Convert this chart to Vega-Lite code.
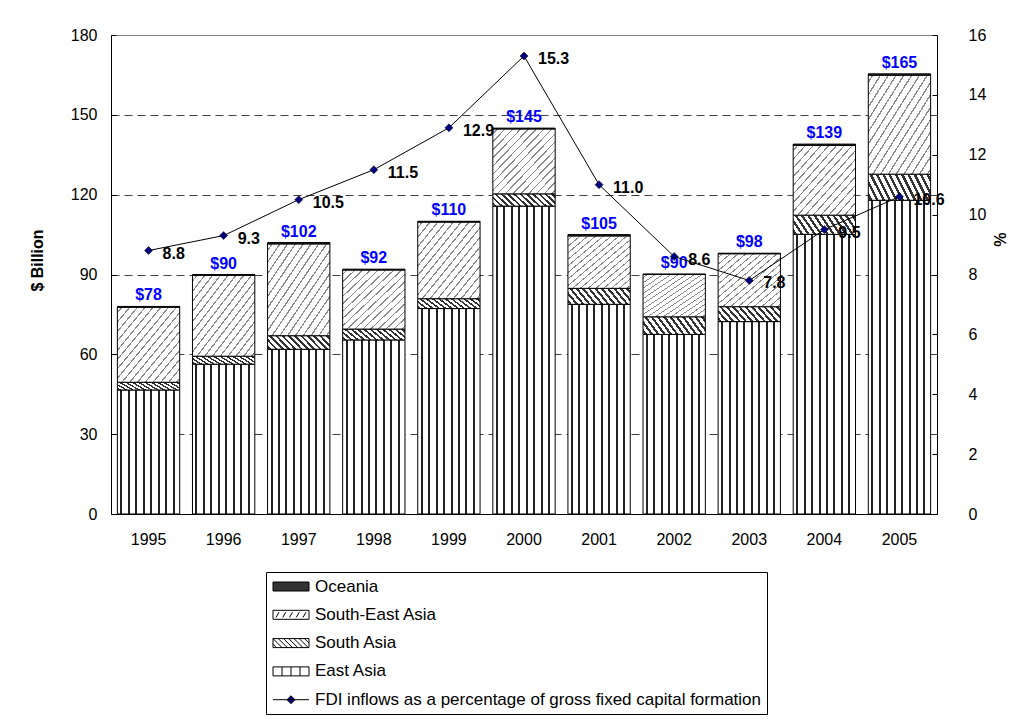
{
  "$schema": "https://vega.github.io/schema/vega-lite/v6.json",
  "width": 826,
  "height": 479,
  "autosize": {"type": "none"},
  "padding": {"left": 111, "top": 35, "right": 87, "bottom": 205},
  "background": "white",
  "config": {
    "font": "Liberation Sans",
    "view": {"stroke": "#808080", "strokeWidth": 1},
    "axis": {
      "labelFont": "Liberation Sans", "labelFontSize": 16, "labelColor": "black",
      "titleFont": "Liberation Sans", "titleFontSize": 16, "titleFontWeight": "bold", "titleColor": "black",
      "domainColor": "black", "tickColor": "black"
    },
    "legend": {
      "labelFont": "Liberation Sans", "labelFontSize": 17, "labelColor": "black", "labelLimit": 1000,
      "strokeColor": "black", "fillColor": "white", "padding": 6, "rowPadding": 10.3,
      "symbolSize": 225, "labelOffset": 26, "symbolStrokeWidth": 1, "symbolStrokeColor": "black",
      "symbolFillColor": "white", "symbolOpacity": 1
    }
  },
  "datasets": {
    "bars": [
      {"year": "1995", "region": "East Asia", "value": 46.6},
      {"year": "1995", "region": "South Asia", "value": 2.9},
      {"year": "1995", "region": "South-East Asia", "value": 28.2},
      {"year": "1995", "region": "Oceania", "value": 0.3},
      {"year": "1996", "region": "East Asia", "value": 56.3},
      {"year": "1996", "region": "South Asia", "value": 3.0},
      {"year": "1996", "region": "South-East Asia", "value": 30.4},
      {"year": "1996", "region": "Oceania", "value": 0.3},
      {"year": "1997", "region": "East Asia", "value": 61.9},
      {"year": "1997", "region": "South Asia", "value": 5.1},
      {"year": "1997", "region": "South-East Asia", "value": 34.5},
      {"year": "1997", "region": "Oceania", "value": 0.5},
      {"year": "1998", "region": "East Asia", "value": 65.4},
      {"year": "1998", "region": "South Asia", "value": 4.1},
      {"year": "1998", "region": "South-East Asia", "value": 22.2},
      {"year": "1998", "region": "Oceania", "value": 0.3},
      {"year": "1999", "region": "East Asia", "value": 77.2},
      {"year": "1999", "region": "South Asia", "value": 3.7},
      {"year": "1999", "region": "South-East Asia", "value": 28.8},
      {"year": "1999", "region": "Oceania", "value": 0.3},
      {"year": "2000", "region": "East Asia", "value": 115.7},
      {"year": "2000", "region": "South Asia", "value": 4.6},
      {"year": "2000", "region": "South-East Asia", "value": 24.4},
      {"year": "2000", "region": "Oceania", "value": 0.3},
      {"year": "2001", "region": "East Asia", "value": 78.8},
      {"year": "2001", "region": "South Asia", "value": 6.0},
      {"year": "2001", "region": "South-East Asia", "value": 19.7},
      {"year": "2001", "region": "Oceania", "value": 0.5},
      {"year": "2002", "region": "East Asia", "value": 67.5},
      {"year": "2002", "region": "South Asia", "value": 6.6},
      {"year": "2002", "region": "South-East Asia", "value": 15.9},
      {"year": "2002", "region": "Oceania", "value": 0.2},
      {"year": "2003", "region": "East Asia", "value": 72.3},
      {"year": "2003", "region": "South Asia", "value": 5.6},
      {"year": "2003", "region": "South-East Asia", "value": 19.9},
      {"year": "2003", "region": "Oceania", "value": 0.2},
      {"year": "2004", "region": "East Asia", "value": 105.1},
      {"year": "2004", "region": "South Asia", "value": 7.2},
      {"year": "2004", "region": "South-East Asia", "value": 26.2},
      {"year": "2004", "region": "Oceania", "value": 0.5},
      {"year": "2005", "region": "East Asia", "value": 117.9},
      {"year": "2005", "region": "South Asia", "value": 9.8},
      {"year": "2005", "region": "South-East Asia", "value": 37.2},
      {"year": "2005", "region": "Oceania", "value": 0.5}
    ],
    "fdi": [
      {"year": "1995", "pct": 8.8},
      {"year": "1996", "pct": 9.3},
      {"year": "1997", "pct": 10.5},
      {"year": "1998", "pct": 11.5},
      {"year": "1999", "pct": 12.9},
      {"year": "2000", "pct": 15.3},
      {"year": "2001", "pct": 11.0},
      {"year": "2002", "pct": 8.6},
      {"year": "2003", "pct": 7.8},
      {"year": "2004", "pct": 9.5},
      {"year": "2005", "pct": 10.6}
    ]
  },
  "layer": [
    {
      "layer": [
        {
          "data": {"name": "bars"},
          "transform": [{"calculate": "indexof(['East Asia','South Asia','South-East Asia','Oceania'], datum.region)", "as": "ord"}],
          "mark": {"type": "bar", "stroke": "black", "strokeWidth": 1, "opacity": 1},
          "encoding": {
            "x": {
              "field": "year", "type": "ordinal",
              "scale": {"paddingInner": 0.17, "paddingOuter": 0.085},
              "axis": {"title": null, "labelAngle": 0, "ticks": false, "labelPadding": 17, "domainColor": "black"}
            },
            "y": {
              "field": "value", "type": "quantitative", "stack": "zero", "title": "$ Billion",
              "scale": {"domain": [0, 180], "nice": false},
              "axis": {
                "values": [0, 30, 60, 90, 120, 150, 180],
                "tickSize": -5, "labelPadding": 19, "titlePadding": 25, "titleY": 225,
                "grid": true, "gridDash": [8, 5], "gridColor": "#404040",
                "gridOpacity": {"condition": {"test": "datum.value === 0 || datum.value === 180", "value": 0}, "value": 1}
              }
            },
            "order": {"field": "ord", "type": "quantitative"},
            "fill": {
              "condition": [
                {"test": "datum.region === 'East Asia'", "value": {"gradient": "linear", "x1": 0, "y1": 0, "x2": 1, "y2": 0, "stops": [
                  {"offset": 0, "color": "#ffffff"},
                  {"offset": 0.048, "color": "#ffffff"}, {"offset": 0.048, "color": "#222222"}, {"offset": 0.08, "color": "#222222"}, {"offset": 0.08, "color": "#ffffff"},
                  {"offset": 0.168, "color": "#ffffff"}, {"offset": 0.168, "color": "#222222"}, {"offset": 0.2, "color": "#222222"}, {"offset": 0.2, "color": "#ffffff"},
                  {"offset": 0.287, "color": "#ffffff"}, {"offset": 0.287, "color": "#222222"}, {"offset": 0.319, "color": "#222222"}, {"offset": 0.319, "color": "#ffffff"},
                  {"offset": 0.407, "color": "#ffffff"}, {"offset": 0.407, "color": "#222222"}, {"offset": 0.439, "color": "#222222"}, {"offset": 0.439, "color": "#ffffff"},
                  {"offset": 0.526, "color": "#ffffff"}, {"offset": 0.526, "color": "#222222"}, {"offset": 0.558, "color": "#222222"}, {"offset": 0.558, "color": "#ffffff"},
                  {"offset": 0.646, "color": "#ffffff"}, {"offset": 0.646, "color": "#222222"}, {"offset": 0.678, "color": "#222222"}, {"offset": 0.678, "color": "#ffffff"},
                  {"offset": 0.766, "color": "#ffffff"}, {"offset": 0.766, "color": "#222222"}, {"offset": 0.798, "color": "#222222"}, {"offset": 0.798, "color": "#ffffff"},
                  {"offset": 0.885, "color": "#ffffff"}, {"offset": 0.885, "color": "#222222"}, {"offset": 0.917, "color": "#222222"}, {"offset": 0.917, "color": "#ffffff"},
                  {"offset": 1, "color": "#ffffff"}
                ]}},
                {"test": "datum.region === 'South Asia'", "value": {"gradient": "linear", "x1": 0, "y1": 1, "x2": 1.159, "y2": 0.757, "stops": [
                  {"offset": 0, "color": "#ffffff"},
                  {"offset": 0.02, "color": "#ffffff"}, {"offset": 0.02, "color": "#333333"}, {"offset": 0.055, "color": "#333333"}, {"offset": 0.055, "color": "#ffffff"},
                  {"offset": 0.103, "color": "#ffffff"}, {"offset": 0.103, "color": "#333333"}, {"offset": 0.138, "color": "#333333"}, {"offset": 0.138, "color": "#ffffff"},
                  {"offset": 0.187, "color": "#ffffff"}, {"offset": 0.187, "color": "#333333"}, {"offset": 0.222, "color": "#333333"}, {"offset": 0.222, "color": "#ffffff"},
                  {"offset": 0.27, "color": "#ffffff"}, {"offset": 0.27, "color": "#333333"}, {"offset": 0.305, "color": "#333333"}, {"offset": 0.305, "color": "#ffffff"},
                  {"offset": 0.353, "color": "#ffffff"}, {"offset": 0.353, "color": "#333333"}, {"offset": 0.388, "color": "#333333"}, {"offset": 0.388, "color": "#ffffff"},
                  {"offset": 0.437, "color": "#ffffff"}, {"offset": 0.437, "color": "#333333"}, {"offset": 0.472, "color": "#333333"}, {"offset": 0.472, "color": "#ffffff"},
                  {"offset": 0.52, "color": "#ffffff"}, {"offset": 0.52, "color": "#333333"}, {"offset": 0.555, "color": "#333333"}, {"offset": 0.555, "color": "#ffffff"},
                  {"offset": 0.603, "color": "#ffffff"}, {"offset": 0.603, "color": "#333333"}, {"offset": 0.638, "color": "#333333"}, {"offset": 0.638, "color": "#ffffff"},
                  {"offset": 0.687, "color": "#ffffff"}, {"offset": 0.687, "color": "#333333"}, {"offset": 0.722, "color": "#333333"}, {"offset": 0.722, "color": "#ffffff"},
                  {"offset": 0.77, "color": "#ffffff"}, {"offset": 0.77, "color": "#333333"}, {"offset": 0.805, "color": "#333333"}, {"offset": 0.805, "color": "#ffffff"},
                  {"offset": 0.853, "color": "#ffffff"}, {"offset": 0.853, "color": "#333333"}, {"offset": 0.888, "color": "#333333"}, {"offset": 0.888, "color": "#ffffff"},
                  {"offset": 0.937, "color": "#ffffff"}, {"offset": 0.937, "color": "#333333"}, {"offset": 0.972, "color": "#333333"}, {"offset": 0.972, "color": "#ffffff"},
                  {"offset": 1, "color": "#ffffff"}
                ]}},
                {"test": "datum.region === 'South-East Asia'", "value": {"gradient": "linear", "x1": 0, "y1": 0, "x2": 1, "y2": 1, "stops": [
                  {"offset": 0, "color": "#ffffff"},
                  {"offset": 0.03, "color": "#ffffff"}, {"offset": 0.03, "color": "#8a8a8a"}, {"offset": 0.042, "color": "#8a8a8a"}, {"offset": 0.042, "color": "#ffffff"},
                  {"offset": 0.0925, "color": "#ffffff"}, {"offset": 0.0925, "color": "#8a8a8a"}, {"offset": 0.1045, "color": "#8a8a8a"}, {"offset": 0.1045, "color": "#ffffff"},
                  {"offset": 0.155, "color": "#ffffff"}, {"offset": 0.155, "color": "#8a8a8a"}, {"offset": 0.167, "color": "#8a8a8a"}, {"offset": 0.167, "color": "#ffffff"},
                  {"offset": 0.2175, "color": "#ffffff"}, {"offset": 0.2175, "color": "#8a8a8a"}, {"offset": 0.2295, "color": "#8a8a8a"}, {"offset": 0.2295, "color": "#ffffff"},
                  {"offset": 0.28, "color": "#ffffff"}, {"offset": 0.28, "color": "#8a8a8a"}, {"offset": 0.292, "color": "#8a8a8a"}, {"offset": 0.292, "color": "#ffffff"},
                  {"offset": 0.3425, "color": "#ffffff"}, {"offset": 0.3425, "color": "#8a8a8a"}, {"offset": 0.3545, "color": "#8a8a8a"}, {"offset": 0.3545, "color": "#ffffff"},
                  {"offset": 0.405, "color": "#ffffff"}, {"offset": 0.405, "color": "#8a8a8a"}, {"offset": 0.417, "color": "#8a8a8a"}, {"offset": 0.417, "color": "#ffffff"},
                  {"offset": 0.4675, "color": "#ffffff"}, {"offset": 0.4675, "color": "#8a8a8a"}, {"offset": 0.4795, "color": "#8a8a8a"}, {"offset": 0.4795, "color": "#ffffff"},
                  {"offset": 0.53, "color": "#ffffff"}, {"offset": 0.53, "color": "#8a8a8a"}, {"offset": 0.542, "color": "#8a8a8a"}, {"offset": 0.542, "color": "#ffffff"},
                  {"offset": 0.5925, "color": "#ffffff"}, {"offset": 0.5925, "color": "#8a8a8a"}, {"offset": 0.6045, "color": "#8a8a8a"}, {"offset": 0.6045, "color": "#ffffff"},
                  {"offset": 0.655, "color": "#ffffff"}, {"offset": 0.655, "color": "#8a8a8a"}, {"offset": 0.667, "color": "#8a8a8a"}, {"offset": 0.667, "color": "#ffffff"},
                  {"offset": 0.7175, "color": "#ffffff"}, {"offset": 0.7175, "color": "#8a8a8a"}, {"offset": 0.7295, "color": "#8a8a8a"}, {"offset": 0.7295, "color": "#ffffff"},
                  {"offset": 0.78, "color": "#ffffff"}, {"offset": 0.78, "color": "#8a8a8a"}, {"offset": 0.792, "color": "#8a8a8a"}, {"offset": 0.792, "color": "#ffffff"},
                  {"offset": 0.8425, "color": "#ffffff"}, {"offset": 0.8425, "color": "#8a8a8a"}, {"offset": 0.8545, "color": "#8a8a8a"}, {"offset": 0.8545, "color": "#ffffff"},
                  {"offset": 0.905, "color": "#ffffff"}, {"offset": 0.905, "color": "#8a8a8a"}, {"offset": 0.917, "color": "#8a8a8a"}, {"offset": 0.917, "color": "#ffffff"},
                  {"offset": 0.9675, "color": "#ffffff"}, {"offset": 0.9675, "color": "#8a8a8a"}, {"offset": 0.9795, "color": "#8a8a8a"}, {"offset": 0.9795, "color": "#ffffff"},
                  {"offset": 1, "color": "#ffffff"}
                ]}}
              ],
              "field": "region", "type": "nominal",
              "scale": {
                "domain": ["Oceania", "South-East Asia", "South Asia", "East Asia", "FDI inflows as a percentage of gross fixed capital formation"],
                "range": ["#333333", "#ffffff", "#ffffff", "#ffffff", "#000080"]
              },
              "legend": {"orient": "none", "legendX": 155, "legendY": 537, "direction": "vertical", "title": null}
            }
          }
        },
        {
          "data": {"name": "bars"},
          "mark": {"type": "point", "filled": true, "opacity": 0, "stroke": "black"},
          "encoding": {
            "x": {"field": "year", "type": "ordinal"},
            "y": {"field": "value", "type": "quantitative", "title": "$ Billion"},
            "fill": {
              "field": "region", "type": "nominal",
              "scale": {
                "domain": ["Oceania", "South-East Asia", "South Asia", "East Asia", "FDI inflows as a percentage of gross fixed capital formation"],
                "range": ["#333333", "#ffffff", "#ffffff", "#ffffff", "#000080"]
              },
              "legend": {"orient": "none", "legendX": 155, "legendY": 537, "direction": "vertical", "title": null}
            },
            "shape": {
              "field": "region", "type": "nominal",
              "scale": {
                "domain": ["Oceania", "South-East Asia", "South Asia", "East Asia", "FDI inflows as a percentage of gross fixed capital formation"],
                "range": [
                  "M-1,-0.6H3.8V0.6H-1Z",
                  "M-1,-0.6H3.8V0.6H-1Z M-0.6,0.35L-0.2,-0.35 M0.3,0.35L0.7,-0.35 M1.2,0.35L1.6,-0.35 M2.1,0.35L2.5,-0.35 M3.0,0.35L3.4,-0.35",
                  "M-1,-0.6H3.8V0.6H-1Z M-1,0.1L-0.5,0.6 M-1,-0.6L0.2,0.6 M-0.3,-0.6L0.9,0.6 M0.4,-0.6L1.6,0.6 M1.1,-0.6L2.3,0.6 M1.8,-0.6L3.0,0.6 M2.5,-0.6L3.7,0.6 M3.2,-0.6L3.8,0",
                  "M-1,-0.6H3.8V0.6H-1Z M0.2,-0.6V0.6 M1.4,-0.6V0.6 M2.6,-0.6V0.6",
                  "M-1,0H3.8 M1.4,-0.53L1.93,0L1.4,0.53L0.87,0Z"
                ]
              },
              "legend": {"orient": "none", "legendX": 155, "legendY": 537, "direction": "vertical", "title": null}
            }
          }
        },
        {
          "data": {"name": "bars"},
          "transform": [{"aggregate": [{"op": "sum", "field": "value", "as": "total"}], "groupby": ["year"]}],
          "mark": {"type": "text", "color": "#0000ff", "fontWeight": "bold", "fontSize": 16, "font": "Liberation Sans", "baseline": "alphabetic", "dy": -6},
          "encoding": {
            "x": {"field": "year", "type": "ordinal"},
            "y": {"field": "total", "type": "quantitative", "title": "$ Billion"},
            "text": {"field": "total", "type": "quantitative", "format": "$.0f"}
          }
        }
      ]
    },
    {
      "data": {"name": "fdi"},
      "layer": [
        {
          "mark": {"type": "line", "color": "black", "strokeWidth": 1},
          "encoding": {
            "x": {"field": "year", "type": "ordinal"},
            "y": {
              "field": "pct", "type": "quantitative", "title": "%",
              "scale": {"domain": [0, 16], "nice": false},
              "axis": {"orient": "right", "values": [0, 2, 4, 6, 8, 10, 12, 14, 16], "tickSize": -5, "labelPadding": 36, "titlePadding": 5, "titleY": 204, "grid": false}
            }
          }
        },
        {
          "mark": {"type": "point", "shape": "diamond", "filled": true, "fill": "#000080", "stroke": "black", "strokeWidth": 0.5, "size": 64, "opacity": 1},
          "encoding": {
            "x": {"field": "year", "type": "ordinal"},
            "y": {"field": "pct", "type": "quantitative", "title": "%"}
          }
        },
        {
          "mark": {"type": "text", "color": "black", "fontWeight": "bold", "fontSize": 16, "font": "Liberation Sans", "align": "left", "baseline": "middle", "dx": 14, "dy": 3},
          "encoding": {
            "x": {"field": "year", "type": "ordinal"},
            "y": {"field": "pct", "type": "quantitative", "title": "%"},
            "text": {"field": "pct", "type": "quantitative", "format": ".1f"}
          }
        }
      ]
    }
  ],
  "resolve": {"scale": {"y": "independent"}}
}
